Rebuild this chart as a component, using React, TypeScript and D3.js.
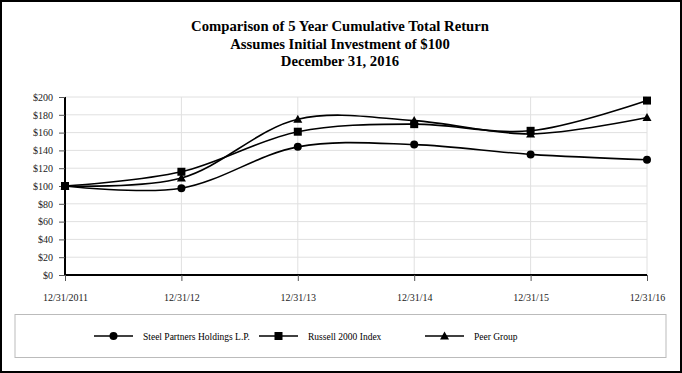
import { useRef, useEffect } from 'react'
import * as d3 from 'd3'

const periods = ['12/31/2011', '12/31/12', '12/31/13', '12/31/14', '12/31/15', '12/31/16']
const steelPartners = [100, 97.5, 144, 146.5, 135.5, 129.5]
const russell2000 = [100, 116, 161, 169.5, 162, 196]
const peerGroup = [100, 109, 175, 173.5, 158.5, 177]
const seriesNames = ['Steel Partners Holdings L.P.', 'Russell 2000 Index', 'Peer Group']
const yTicks = [0, 20, 40, 60, 80, 100, 120, 140, 160, 180, 200]
const titleLines = [
  'Comparison of 5 Year Cumulative Total Return',
  'Assumes Initial Investment of $100',
  'December 31, 2016',
]

const W = 682
const H = 373
const FONT = "'Liberation Serif', Tinos, 'Times New Roman', Times, 'DejaVu Serif', serif"

function drawMarker(g: any, kind: string, cx: number, cy: number) {
  if (kind === 'circle') {
    g.append('circle').attr('cx', cx).attr('cy', cy).attr('r', 4).attr('fill', '#000')
  } else if (kind === 'square') {
    g.append('rect').attr('x', cx - 4).attr('y', cy - 4).attr('width', 8).attr('height', 8).attr('fill', '#000')
  } else {
    g.append('path')
      .attr('d', `M${cx},${cy - 4.5}L${cx + 4.5},${cy + 3.5}L${cx - 4.5},${cy + 3.5}Z`)
      .attr('fill', '#000')
  }
}

export default function App() {
  const svgRef = useRef<SVGSVGElement>(null)

  useEffect(() => {
    if (!svgRef.current) return
    const svg = d3.select(svgRef.current)
    svg.selectAll('*').remove()

    svg.append('rect').attr('width', W).attr('height', H).attr('fill', '#fff')
    svg
      .append('rect')
      .attr('x', 1)
      .attr('y', 1)
      .attr('width', W - 2)
      .attr('height', H - 2)
      .attr('fill', 'none')
      .attr('stroke', '#000')
      .attr('stroke-width', 2)

    // Title
    svg
      .append('g')
      .selectAll('text')
      .data(titleLines)
      .join('text')
      .attr('x', W / 2 - 1)
      .attr('y', (_, i) => 31 + i * 17.5)
      .attr('text-anchor', 'middle')
      .style('font-family', FONT)
      .attr('font-weight', 'bold')
      .attr('font-size', 14.7)
      .text((d) => d)

    const x = d3.scalePoint().domain(periods).range([65, 647])
    const y = d3.scaleLinear().domain([0, 200]).range([275, 97])

    const g = svg.append('g')

    // Grid
    g.selectAll('.hgrid')
      .data(yTicks.filter((t) => t > 0))
      .join('line')
      .attr('x1', x.range()[0])
      .attr('x2', x.range()[1])
      .attr('y1', (d) => y(d))
      .attr('y2', (d) => y(d))
      .attr('stroke', '#e0e0e0')
      .attr('stroke-width', 1)
    g.selectAll('.vgrid')
      .data(periods.slice(1))
      .join('line')
      .attr('x1', (d) => x(d)!)
      .attr('x2', (d) => x(d)!)
      .attr('y1', y(200))
      .attr('y2', y(0))
      .attr('stroke', '#e0e0e0')
      .attr('stroke-width', 1)

    // Y axis
    const yAxis = g
      .append('g')
      .attr('transform', `translate(${x.range()[0]},0)`)
      .call(d3.axisLeft(y).tickValues(yTicks).tickSize(6).tickPadding(6).tickFormat((d) => `$${d}`))
    yAxis.select('.domain').attr('stroke-width', 2).attr('d', `M0,${y(200)}V${y(0)}`)
    yAxis.selectAll('.tick line').attr('stroke', '#555')
    yAxis.selectAll('text').style('font-family', FONT).attr('font-size', 10).attr('fill', '#222')

    // X axis
    const xAxis = g
      .append('g')
      .attr('transform', `translate(0,${y(0)})`)
      .call(d3.axisBottom(x).tickSize(6).tickPadding(13))
    xAxis.select('.domain').attr('stroke-width', 2).attr('d', `M${x.range()[0]},0H${x.range()[1]}`)
    xAxis.selectAll('.tick line').attr('stroke', '#555')
    xAxis.selectAll('text').style('font-family', FONT).attr('font-size', 10).attr('fill', '#222')

    // Lines
    const series = [
      { name: seriesNames[0], values: steelPartners, marker: 'circle' },
      { name: seriesNames[1], values: russell2000, marker: 'square' },
      { name: seriesNames[2], values: peerGroup, marker: 'triangle' },
    ]
    const line = d3
      .line<number>()
      .x((_, i) => x(periods[i])!)
      .y((d) => y(d))
      .curve(d3.curveCatmullRom.alpha(0.5))

    series.forEach((s) => {
      g.append('path')
        .attr('d', line(s.values))
        .attr('fill', 'none')
        .attr('stroke', '#000')
        .attr('stroke-width', 1.6)
    })
    series.forEach((s) => {
      s.values.forEach((v, i) => drawMarker(g, s.marker, x(periods[i])!, y(v)))
    })

    // Legend
    svg
      .append('rect')
      .attr('x', 15)
      .attr('y', 314.5)
      .attr('width', 651)
      .attr('height', 43)
      .attr('fill', 'none')
      .attr('stroke', '#bbb')
      .attr('stroke-width', 1)

    const legendX = [94, 259, 425]
    series.forEach((s, i) => {
      const lg = svg.append('g')
      const lx = legendX[i]
      const ly = 336
      lg.append('line')
        .attr('x1', lx)
        .attr('x2', lx + 39)
        .attr('y1', ly)
        .attr('y2', ly)
        .attr('stroke', '#000')
        .attr('stroke-width', 1.6)
      drawMarker(lg, s.marker, lx + 19.5, ly)
      lg.append('text')
        .attr('x', lx + 49)
        .attr('y', ly + 3.5)
        .style('font-family', FONT)
        .attr('font-size', 9.5)
        .text(s.name)
    })
  }, [])

  return (
    <svg
      ref={svgRef}
      width={W}
      height={H}
      style={{ position: 'absolute', left: 0, top: 0, display: 'block' }}
    />
  )
}
